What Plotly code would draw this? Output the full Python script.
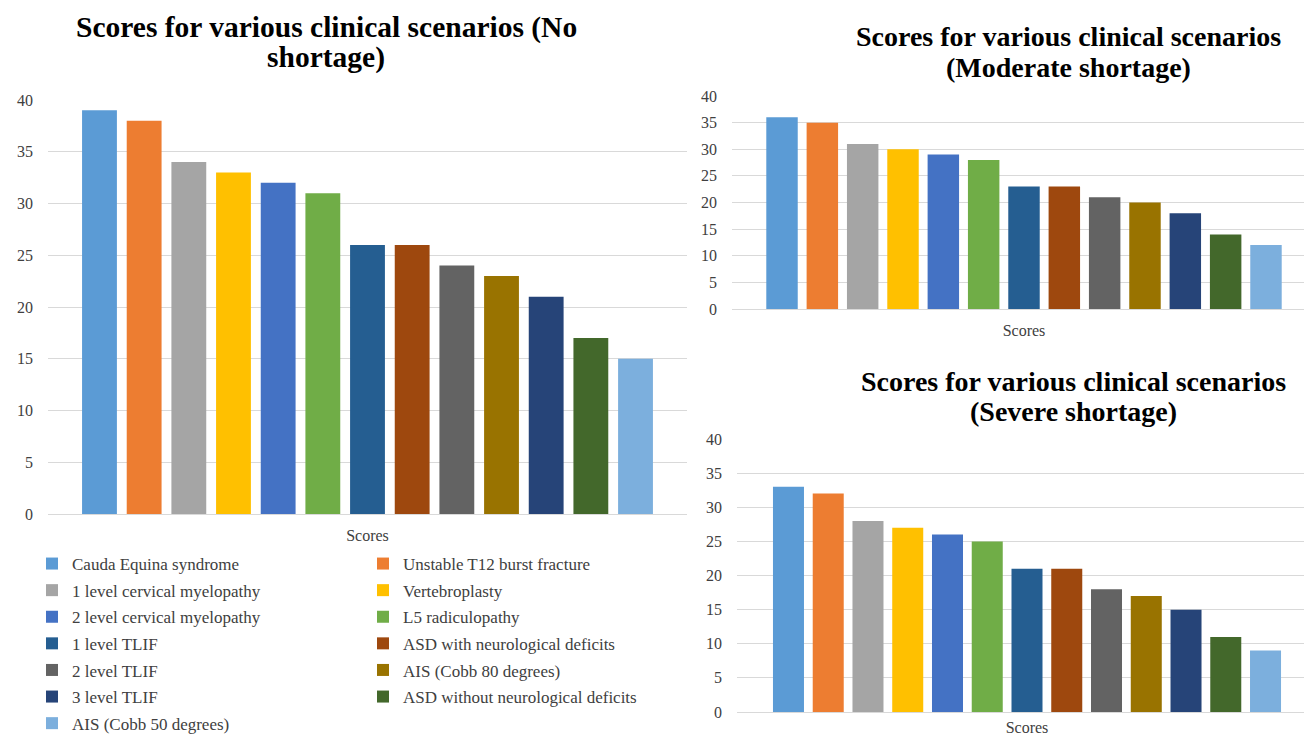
import plotly.graph_objects as go

# Clinical scenarios, in plotting order
scenarios = [
    "Cauda Equina syndrome",
    "Unstable T12 burst fracture",
    "1 level cervical myelopathy",
    "Vertebroplasty",
    "2 level cervical myelopathy",
    "L5 radiculopathy",
    "1 level TLIF",
    "ASD with neurological deficits",
    "2 level TLIF",
    "AIS (Cobb 80 degrees)",
    "3 level TLIF",
    "ASD without neurological deficits",
    "AIS (Cobb 50 degrees)",
]

# Scores under each shortage level
no_shortage = [39, 38, 34, 33, 32, 31, 26, 26, 24, 23, 21, 17, 15]
moderate_shortage = [36, 35, 31, 30, 29, 28, 23, 23, 21, 20, 18, 14, 12]
severe_shortage = [33, 32, 28, 27, 26, 25, 21, 21, 18, 17, 15, 11, 9]

category = ["Scores"]
y_ticks = [0, 5, 10, 15, 20, 25, 30, 35, 40]

colors = [
    "#5B9BD5", "#ED7D31", "#A5A5A5", "#FFC000", "#4472C4", "#70AD47",
    "#255E91", "#9E480E", "#636363", "#997300", "#264478", "#43682B",
    "#7CAFDD",
]

W, H = 1304, 737
SERIF = "Liberation Serif"


def px_x(p):
    return p / W


def px_y(p):
    return (H - p) / H


fig = go.Figure()

panels = [
    (no_shortage, "x", "y"),
    (moderate_shortage, "x2", "y2"),
    (severe_shortage, "x3", "y3"),
]

for k, (values, xa, ya) in enumerate(panels):
    for i, name in enumerate(scenarios):
        fig.add_trace(go.Bar(
            x=category,
            y=[values[i]],
            name=name,
            marker=dict(color=colors[i], line=dict(width=0)),
            xaxis=xa,
            yaxis=ya,
            showlegend=(k == 0),
            legendgroup=name,
            legend="legend" if i % 2 == 0 else "legend2",
            hovertemplate=name + ": %{y}<extra></extra>",
        ))

# pixel layout of each plot area:
# (left, right, group centre, group width, y of 0, y of 40, category label gap)
areas = [
    (48, 687, 367.5, 580.7, 514, 100, 10),
    (732, 1304, 1024, 524.3, 309, 96, 10),
    (737, 1304, 1027, 516.8, 712, 439, 4),
]

axis_font = dict(family=SERIF, size=16, color="#404040")
layout_axes = {}
for k, (left, right, centre, gw, y0, y40, gap) in enumerate(areas):
    sx = "" if k == 0 else str(k + 1)
    layout_axes["xaxis" + sx] = dict(
        domain=[px_x(left), px_x(right)],
        range=[-(centre - left) / gw, (right - centre) / gw],
        type="category",
        showgrid=False,
        showline=False,
        zeroline=False,
        ticks="",
        tickfont=axis_font,
        ticklabelstandoff=gap,
        automargin=False,
        anchor="y" + sx,
        fixedrange=True,
    )
    layout_axes["yaxis" + sx] = dict(
        domain=[px_y(y0), px_y(y40)],
        range=[0, 40],
        tickvals=y_ticks,
        showgrid=True,
        gridcolor="#D9D9D9",
        gridwidth=1,
        zeroline=True,
        zerolinecolor="#D9D9D9",
        zerolinewidth=1,
        showline=False,
        ticks="",
        tickfont=axis_font,
        ticklabelstandoff=14,
        automargin=False,
        anchor="x" + sx,
        fixedrange=True,
    )

# chart titles, one annotation per line: (text, centre x, centre y, size)
title_lines = [
    ("Scores for various clinical scenarios (No", 326, 27, 29.5),
    ("shortage)", 326, 58, 29.5),
    ("Scores for various clinical scenarios", 1068, 36, 28),
    ("(Moderate shortage)", 1068, 67, 28),
    ("Scores for various clinical scenarios", 1073, 381, 28),
    ("(Severe shortage)", 1073, 411, 28),
]
annotations = [
    dict(text="<b>" + t + "</b>",
         x=px_x(cx), y=px_y(cy), xref="paper", yref="paper",
         xanchor="center", yanchor="middle", showarrow=False,
         font=dict(family=SERIF, size=s, color="#000000"), align="center")
    for t, cx, cy, s in title_lines
]

legend_common = dict(
    orientation="v",
    font=dict(family=SERIF, size=17, color="#404040"),
    bgcolor="rgba(0,0,0,0)",
    traceorder="grouped",
    tracegroupgap=1.5,
    xanchor="left",
    yanchor="top",
    itemclick=False,
    itemdoubleclick=False,
)

fig.update_layout(
    width=W,
    height=H,
    margin=dict(l=0, r=0, t=0, b=0, autoexpand=False),
    paper_bgcolor="white",
    plot_bgcolor="white",
    barmode="group",
    bargap=0,
    bargroupgap=0.22,
    annotations=annotations,
    legend=dict(x=px_x(32), y=px_y(546), **legend_common),
    legend2=dict(x=px_x(363), y=px_y(546), **legend_common),
    **layout_axes,
)

fig.write_html("out.html")
